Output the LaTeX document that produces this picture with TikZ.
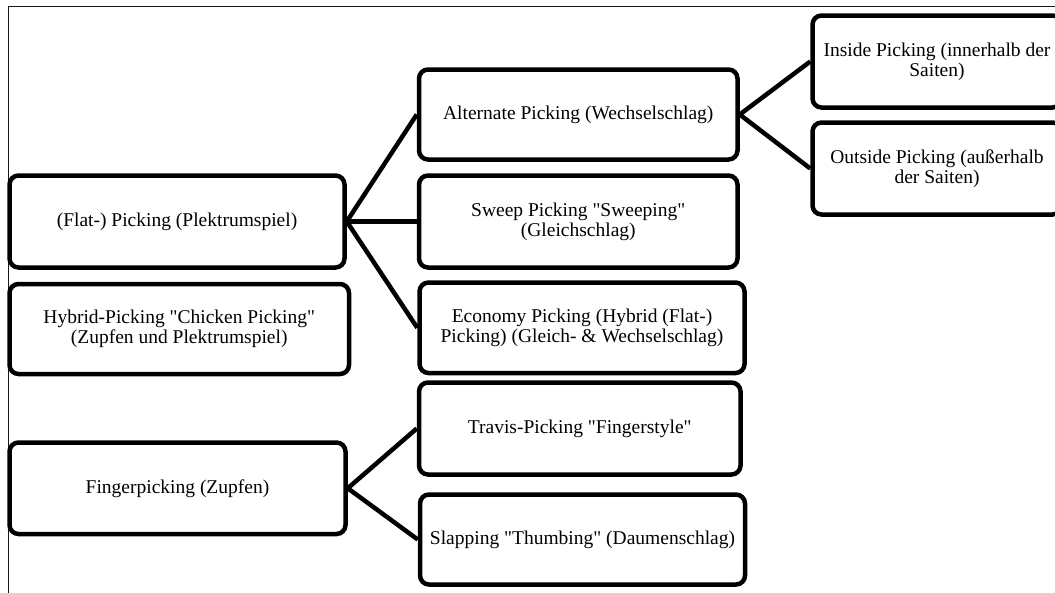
\documentclass[tikz,border=0pt]{standalone}
\usepackage{fontspec}
\setmainfont{Liberation Serif}[Ligatures=TeXOff]
\begin{document}
\begin{tikzpicture}[x=1pt,y=-1pt,
  box/.style={draw=black, line width=4.5pt, rounded corners=9pt, rectangle,
    inner sep=0pt, align=center, text=black,
    font=\fontsize{19.5}{20}\selectfont},
  link/.style={draw=black, line width=4.5pt},
  frameline/.style={draw=black!90, line width=1.3pt}]
\clip (0,0) rectangle (1055,592);
\fill[white] (0,0) rectangle (1055,592);
% outer frame (top and left edges visible)
\coordinate (fbl) at (8.3,600);
\coordinate (ftl) at (8.3,6.5);
\coordinate (ftr) at (1070,6.5);
\draw[frameline] (fbl) -- (ftl) -- (ftr);
% left column
\node[box, minimum width=335pt, minimum height=92pt] (flat) at (177,221.5)
  {(Flat-) Picking (Plektrumspiel)};
\node[box, minimum width=339.5pt, minimum height=90pt] (hybrid) at (179.25,329)
  {Hybrid-Picking "Chicken Picking"\\(Zupfen und Plektrumspiel)};
\node[box, minimum width=336pt, minimum height=91.5pt] (finger) at (177.5,488.25)
  {Fingerpicking (Zupfen)};
% middle column
\node[box, minimum width=318.5pt, minimum height=90pt] (alt) at (578.25,114.5)
  {Alternate Picking (Wechselschlag)};
\node[box, minimum width=318.5pt, minimum height=92pt] (sweep) at (578.25,221.5)
  {Sweep Picking "Sweeping"\\(Gleichschlag)};
\node[box, minimum width=325pt, minimum height=90.5pt] (econ) at (582,327.75)
  {Economy Picking (Hybrid (Flat-)\\Picking) (Gleich- \& Wechselschlag)};
\node[box, minimum width=321.5pt, minimum height=92pt] (travis) at (579.75,428.5)
  {Travis-Picking "Fingerstyle"};
\node[box, minimum width=325pt, minimum height=90pt] (slap) at (582.5,539.5)
  {Slapping "Thumbing" (Daumenschlag)};
% right column
\node[box, minimum width=249pt, minimum height=92pt] (inside) at (937,61.5)
  {Inside Picking (innerhalb der\\Saiten)};
\node[box, minimum width=249pt, minimum height=92pt] (outside) at (937,168.5)
  {Outside Picking (außerhalb\\der Saiten)};
% connectors
\draw[link] (flat.east) -- (alt.west);
\draw[link] (flat.east) -- (sweep.west);
\draw[link] (flat.east) -- (econ.west);
\draw[link] (alt.east) -- (inside.west);
\draw[link] (alt.east) -- (outside.west);
\draw[link] (finger.east) -- (travis.west);
\draw[link] (finger.east) -- (slap.west);
\end{tikzpicture}
\end{document}
